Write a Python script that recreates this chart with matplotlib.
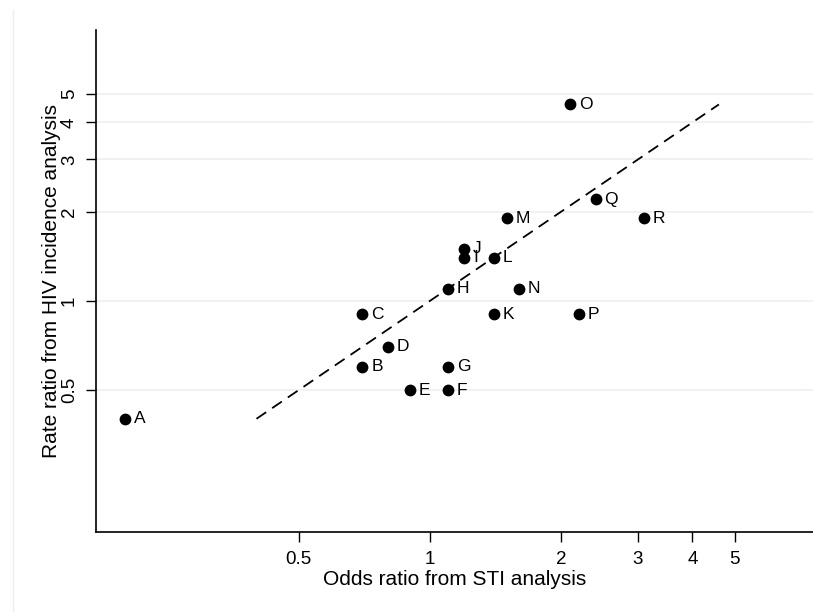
import matplotlib.pyplot as plt
from matplotlib.lines import Line2D

plt.rcParams["font.family"] = ["Liberation Sans", "DejaVu Sans"]

# study labels and ratios
labels = list("ABCDEFGHIJKLMNOPQR")
odds_ratio = [0.2, 0.7, 0.7, 0.8, 0.9, 1.1, 1.1, 1.1, 1.2, 1.2,
              1.4, 1.4, 1.5, 1.6, 2.1, 2.2, 2.4, 3.1]
rate_ratio = [0.4, 0.6, 0.9, 0.7, 0.5, 0.5, 0.6, 1.1, 1.4, 1.5,
              0.9, 1.4, 1.9, 1.1, 4.6, 0.9, 2.2, 1.9]

# line of equality
ref_line = [0.4, 4.6]

x_ticks = [0.5, 1, 2, 3, 4, 5]
y_ticks = [0.5, 1, 2, 3, 4, 5]

fig = plt.figure(figsize=(8.13, 6.12), dpi=100)
ax = fig.add_axes([96 / 813, 80 / 612, 717 / 813, 502 / 612])

ax.set_xscale("log")
ax.set_yscale("log")
ax.set_xlim(0.1714, 7.56)
ax.set_ylim(0.166, 8.2)

for y in y_ticks:
    ax.axhline(y, color="#eaf0f1", linewidth=1.2, zorder=0)

ax.plot(ref_line, ref_line, color="black", linestyle=(0, (6.5, 4)),
        linewidth=1.3, zorder=2)
ax.scatter(odds_ratio, rate_ratio, s=72, color="black", zorder=3,
           linewidths=0)
for lab, x, y in zip(labels, odds_ratio, rate_ratio):
    ax.annotate(lab, (x, y), xytext=(6.3, 0), textcoords="offset points",
                va="center", ha="left", fontsize=12.5, zorder=4)

ax.set_xticks(x_ticks)
ax.set_xticklabels([f"{v:g}" for v in x_ticks])
ax.set_yticks(y_ticks)
ax.set_yticklabels([f"{v:g}" for v in y_ticks], rotation=90, va="center")
ax.minorticks_off()
ax.tick_params(axis="both", length=7, width=1, labelsize=13.5)
ax.tick_params(axis="x", pad=7)
ax.tick_params(axis="y", pad=6)

ax.set_xlabel("Odds ratio from STI analysis", fontsize=15, labelpad=1)
ax.set_ylabel("Rate ratio from HIV incidence analysis", fontsize=15,
              labelpad=0)

for side in ("top", "right"):
    ax.spines[side].set_visible(False)
for side in ("left", "bottom"):
    ax.spines[side].set_linewidth(1.2)

# faint outer frame edge on the left
fig.add_artist(Line2D([13 / 813, 13 / 813], [0, 602 / 612],
                      transform=fig.transFigure, color="#eeeeee",
                      linewidth=1))

fig.savefig("out.png", dpi=100)
